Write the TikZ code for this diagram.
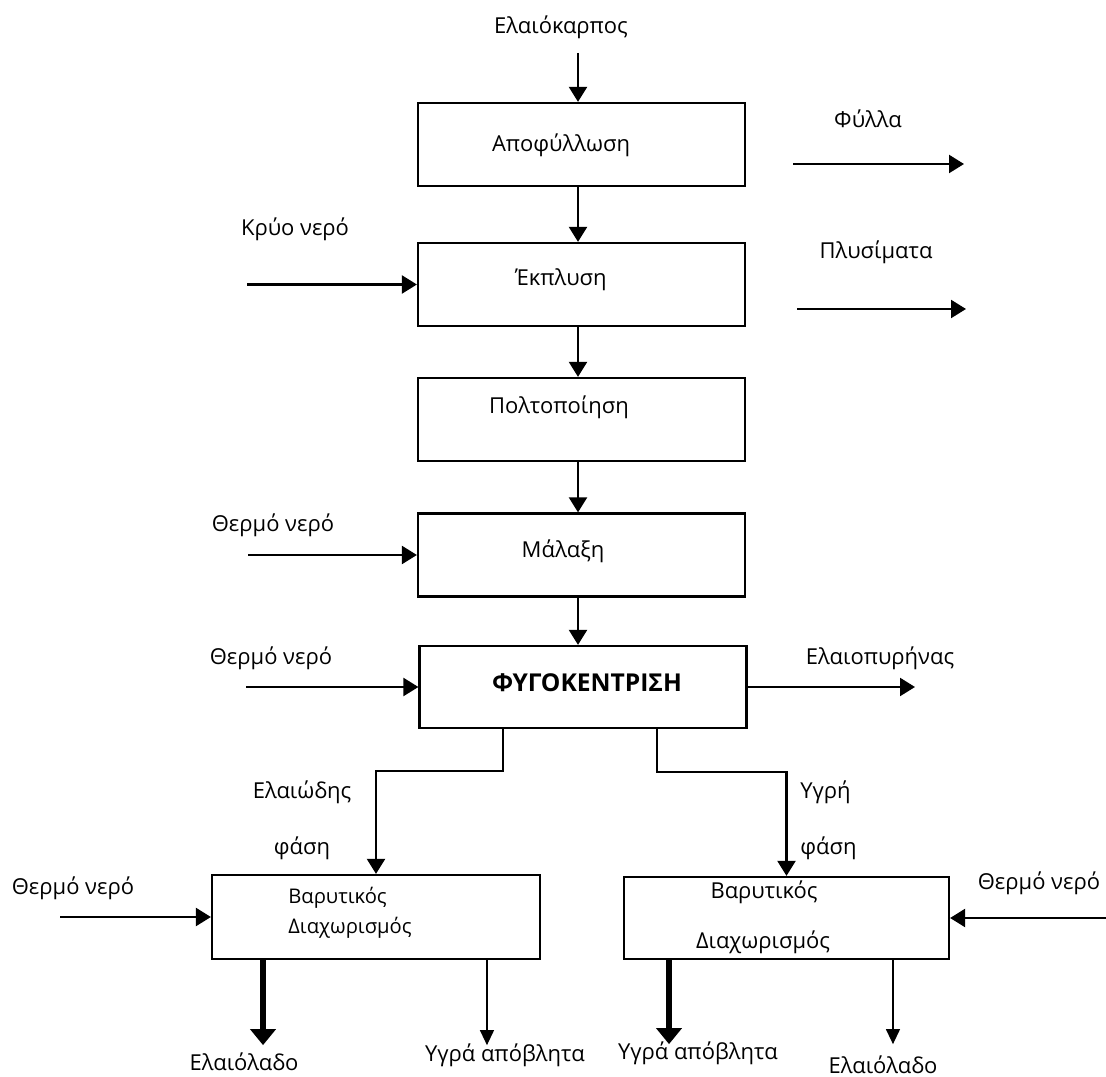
\documentclass[tikz,border=0pt]{standalone}
\usepackage{fontspec}
\setmainfont{Open Sans}
\usepackage{tikz}
\usetikzlibrary{positioning}
\usetikzlibrary{arrows.meta}

\begin{document}
\begin{tikzpicture}[x=0.02cm, y=-0.02cm,
        stage/.style={rectangle, draw=black, line width=1.3pt, minimum width=6.54cm, minimum height=1.66cm, inner sep=0pt},
        flow/.style={-{Triangle[length=0.3cm, width=0.36cm]}, line width=1.3pt},
        heavy/.style={-{Triangle[length=0.32cm, width=0.5cm]}, line width=3pt},
        light/.style={-{Triangle[length=0.3cm, width=0.28cm]}, line width=0.7pt},
        lbl/.style={font=\fontsize{12.5}{15}\selectfont, inner sep=0pt},
        small/.style={font=\fontsize{11.5}{14}\selectfont, inner sep=0pt}
    ]
    \useasboundingbox (0,0) rectangle (1106,1077);

    % Stages
    \node[stage] at (581.5,144.5) (apof) {};
    \node[stage] at (581.5,284.5) (ekpl) {};
    \node[stage] at (581.5,419.5) (polt) {};
    \node[stage] at (581.5,555) (malax) {};
    \node[stage, minimum height=1.64cm] at (583,687) (fygo) {};
    \node[stage, minimum width=6.56cm, minimum height=1.68cm] at (376,917) (varL) {};
    \node[stage, minimum width=6.5cm, minimum height=1.64cm] at (786.5,918) (varR) {};

    % Stage texts
    \node[lbl] at (561,145) (apoft) {Αποφύλλωση};
    \node[lbl] at (561,280) (ekplt) {Έκπλυση};
    \node[lbl] at (559,407) (poltt) {Πολτοποίηση};
    \node[lbl] at (563,551) (malaxt) {Μάλαξη};
    \node[lbl, font=\fontsize{14}{16}\selectfont\bfseries] at (587,683) (fygot) {ΦΥΓΟΚΕΝΤΡΙΣΗ};
    \node[small, anchor=west] at (288,898) (varLa) {Βαρυτικός};
    \node[small, anchor=west] at (288,928) (varLb) {Διαχωρισμός};
    \node[lbl] at (764,892) (varRa) {Βαρυτικός};
    \node[lbl] at (763,942) (varRb) {Διαχωρισμός};

    % Streams in and out
    \node[lbl] at (561,27) (olives) {Ελαιόκαρπος};
    \node[lbl] at (868,119) (leaves) {Φύλλα};
    \node[lbl] at (876,252) (rinse) {Πλυσίματα};
    \node[lbl] at (295,229) (cold) {Κρύο νερό};
    \node[lbl] at (273,525) (hotA) {Θερμό νερό};
    \node[lbl] at (271,658) (hotB) {Θερμό νερό};
    \node[lbl] at (880,658) (pomace) {Ελαιοπυρήνας};
    \node[lbl] at (302,792) (oilyA) {Ελαιώδης};
    \node[lbl] at (302,848) (oilyB) {φάση};
    \node[lbl, anchor=west] at (800,792) (wetA) {Υγρή};
    \node[lbl, anchor=west] at (800,848) (wetB) {φάση};
    \node[lbl] at (73,888) (hotL) {Θερμό νερό};
    \node[lbl] at (1039,883) (hotR) {Θερμό νερό};
    \node[lbl] at (244,1062) (oilL) {Ελαιόλαδο};
    \node[lbl] at (505,1055) (wasteL) {Υγρά απόβλητα};
    \node[lbl] at (698,1053) (wasteR) {Υγρά απόβλητα};
    \node[lbl] at (883,1065) (oilR) {Ελαιόλαδο};

    % Free ends
    \coordinate (olivesin) at (578,53);
    \coordinate (leaves0) at (793,164);
    \coordinate (leaves1) at (964,164);
    \coordinate (rinse0) at (797,309);
    \coordinate (rinse1) at (966,309);
    \coordinate (coldin) at (247,284.5);
    \coordinate (hotAin) at (248,555);
    \coordinate (hotBin) at (246,687);
    \coordinate (pomaceout) at (915,687);
    \coordinate (hotLin) at (60,917);
    \coordinate (hotRin) at (1106,918);

    % Arrows
    \draw[flow] (olivesin) -- (apof.north -| olivesin);
    \draw[flow] (apof.south -| olivesin) -- (ekpl.north -| olivesin);
    \draw[flow] (ekpl.south -| olivesin) -- (polt.north -| olivesin);
    \draw[flow] (polt.south -| olivesin) -- (malax.north -| olivesin);
    \draw[flow] (malax.south -| olivesin) -- (fygo.north -| olivesin);
    \draw[flow] (leaves0) -- (leaves1);
    \draw[flow] (rinse0) -- (rinse1);
    \draw[flow] (coldin) -- (ekpl.west);
    \draw[flow] (hotAin) -- (malax.west);
    \draw[flow] (hotBin) -- (fygo.west);
    \draw[flow] (fygo.east) -- (pomaceout);
    \draw[flow] ([xshift=-1.6cm]fygo.south) -- ++(0,42) -| (varL.north);
    \draw[flow] ([xshift=1.48cm]fygo.south) -- ++(0,43) -| (varR.north);
    \draw[flow] (hotLin) -- (varL.west);
    \draw[flow] (hotRin) -- (varR.east);

    % Outputs
    \draw[heavy] ([xshift=-2.26cm]varL.south) -- ++(0,85);
    \draw[light] ([xshift=2.22cm]varL.south) -- ++(0,85);
    \draw[heavy] ([xshift=-2.35cm]varR.south) -- ++(0,84);
    \draw[light] ([xshift=2.13cm]varR.south) -- ++(0,84);

\end{tikzpicture}
\end{document}
